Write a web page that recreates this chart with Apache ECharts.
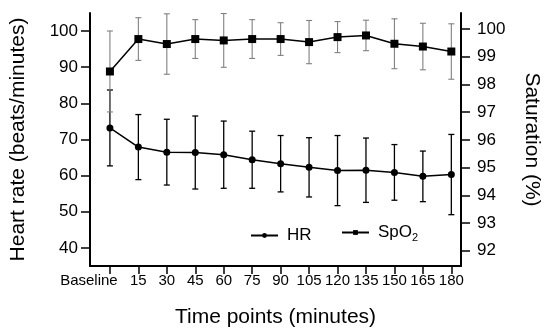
<!DOCTYPE html>
<html>
<head>
<meta charset="utf-8">
<script src="https://cdn.jsdelivr.net/npm/echarts@6/dist/echarts.min.js"></script>
<style>html,body{margin:0;padding:0;background:#fff}#c{width:550px;height:335px}</style>
</head>
<body>
<div id="c"></div>
<script>
var timeLabels = ['Baseline','15','30','45','60','75','90','105','120','135','150','165','180'];
var hrMean = [73.2, 67.9, 66.5, 66.4, 65.8, 64.4, 63.3, 62.3, 61.4, 61.5, 60.9, 59.8, 60.3];
var hrSD   = [10.5, 9.0, 9.1, 10.1, 9.3, 7.9, 7.8, 8.2, 9.7, 8.9, 7.7, 7.0, 11.1];
var spoMean = [98.47, 99.64, 99.46, 99.64, 99.59, 99.64, 99.64, 99.53, 99.71, 99.77, 99.47, 99.37, 99.19];
var spoSD   = [1.46, 0.77, 1.09, 0.70, 0.97, 0.70, 0.59, 0.78, 0.56, 0.55, 0.90, 0.84, 1.00];
var hrTicks = [40, 50, 60, 70, 80, 90, 100];
var spoTicks = [92, 93, 94, 95, 96, 97, 98, 99, 100];

var FONT = 'Liberation Sans, Arial, sans-serif';
// x positions: 1-based index of each time point
var idx = timeLabels.map(function (_, i) { return i + 1; });
var hrPts = hrMean.map(function (v, i) { return [idx[i], v]; });
var spoPts = spoMean.map(function (v, i) { return [idx[i], v]; });
var hrErr = hrMean.map(function (v, i) { return [idx[i], v - hrSD[i], v + hrSD[i]]; });
var spoErr = spoMean.map(function (v, i) { return [idx[i], v - spoSD[i], v + spoSD[i]]; });

function errRender(color, lw) {
  return function (params, api) {
    var x = api.value(0);
    var lo = api.coord([x, api.value(1)]);
    var hi = api.coord([x, api.value(2)]);
    var w = 3;
    var st = { stroke: color, lineWidth: lw };
    return {
      type: 'group',
      children: [
        { type: 'line', shape: { x1: lo[0], y1: lo[1], x2: hi[0], y2: hi[1] }, style: st },
        { type: 'line', shape: { x1: lo[0] - w, y1: lo[1], x2: lo[0] + w, y2: lo[1] }, style: st },
        { type: 'line', shape: { x1: hi[0] - w, y1: hi[1], x2: hi[0] + w, y2: hi[1] }, style: st }
      ]
    };
  };
}

var axisLineStyle = { color: '#000', width: 2 };
var tickStyle = { show: true, length: 9, inside: false, lineStyle: { color: '#000', width: 1.5 } };
var chart = echarts.init(document.getElementById('c'));
chart.setOption({
  animation: false,
  backgroundColor: '#fff',
  grid: { left: 83, right: 86.5, top: 13, bottom: 69, containLabel: false },
  legend: [
    {
      data: ['HR'], left: 245, top: 222, itemWidth: 27, itemHeight: 6,
      textStyle: { fontFamily: FONT, fontSize: 17, color: '#000', padding: [0, 0, 0, 4] }
    },
    {
      data: ['SpO2'], left: 336, top: 219, itemWidth: 27, itemHeight: 6,
      formatter: function () { return '{a|SpO}{b|2}'; },
      textStyle: {
        fontFamily: FONT, fontSize: 17, color: '#000', padding: [0, 0, 0, 4],
        rich: {
          a: { fontFamily: FONT, fontSize: 17, color: '#000', lineHeight: 22 },
          b: { fontFamily: FONT, fontSize: 11, color: '#000', lineHeight: 11, verticalAlign: 'bottom' }
        }
      }
    }
  ],
  xAxis: [
    {
      type: 'value', min: 0.3, max: 13.34, position: 'bottom',
      name: 'Time points (minutes)', nameLocation: 'middle', nameGap: 41,
      nameTextStyle: { fontFamily: FONT, fontSize: 21, color: '#000' },
      axisLine: { show: true, onZero: false, lineStyle: axisLineStyle },
      axisTick: { show: true, length: 8, customValues: idx, lineStyle: { color: '#000', width: 1.5 } },
      axisLabel: {
        customValues: idx.slice(1), margin: 9, lineHeight: 12, fontFamily: FONT, fontSize: 15, color: '#000',
        formatter: function (v) { return timeLabels[Math.round(v) - 1]; }
      },
      splitLine: { show: false }
    },
    {
      type: 'value', min: 0.3, max: 13.34, position: 'bottom', offset: 0,
      axisLine: { show: false, onZero: false },
      axisTick: { show: false },
      axisLabel: {
        customValues: idx.slice(0, 1), margin: 9, lineHeight: 12, fontFamily: FONT, fontSize: 15, color: '#000',
        padding: [0, 42, 0, 0],
        formatter: function (v) { return timeLabels[Math.round(v) - 1]; }
      },
      splitLine: { show: false }
    }
  ],
  yAxis: [
    {
      type: 'value', min: 35, max: 105, position: 'left',
      name: 'Heart rate (beats/minutes)', nameLocation: 'middle', nameGap: 61, nameRotate: 90,
      nameTextStyle: { fontFamily: FONT, fontSize: 21, color: '#000' },
      axisLine: { show: true, onZero: false, lineStyle: axisLineStyle },
      axisTick: Object.assign({ customValues: hrTicks }, tickStyle),
      axisLabel: { customValues: hrTicks, margin: 12, fontFamily: FONT, fontSize: 17, color: '#000' },
      splitLine: { show: false }
    },
    {
      type: 'value', min: 91.45, max: 100.58, position: 'right',
      name: 'Saturation (%)', nameLocation: 'middle', nameGap: 60, nameRotate: -90,
      nameTextStyle: { fontFamily: FONT, fontSize: 21, color: '#000' },
      axisLine: { show: true, onZero: false, lineStyle: axisLineStyle },
      axisTick: Object.assign({ customValues: spoTicks }, tickStyle),
      axisLabel: { customValues: spoTicks, margin: 16, fontFamily: FONT, fontSize: 17, color: '#000' },
      splitLine: { show: false }
    }
  ],
  series: [
    {
      name: 'HRerr', type: 'custom', xAxisIndex: 0, yAxisIndex: 0, data: hrErr,
      encode: { x: 0, y: [1, 2] }, renderItem: errRender('#000', 1.3), z: 1
    },
    {
      name: 'SpOerr', type: 'custom', xAxisIndex: 0, yAxisIndex: 1, data: spoErr,
      encode: { x: 0, y: [1, 2] }, renderItem: errRender('#808080', 1.1), z: 1
    },
    {
      name: 'HR', type: 'line', xAxisIndex: 0, yAxisIndex: 0, data: hrPts,
      symbol: 'circle', symbolSize: 7, showSymbol: true,
      lineStyle: { color: '#000', width: 1.5 }, itemStyle: { color: '#000' }, z: 3
    },
    {
      name: 'SpO2', type: 'line', xAxisIndex: 0, yAxisIndex: 1, data: spoPts,
      symbol: 'rect', symbolSize: 8, showSymbol: true,
      lineStyle: { color: '#000', width: 1.5 }, itemStyle: { color: '#000' }, z: 3
    }
  ]
});
</script>
</body>
</html>
